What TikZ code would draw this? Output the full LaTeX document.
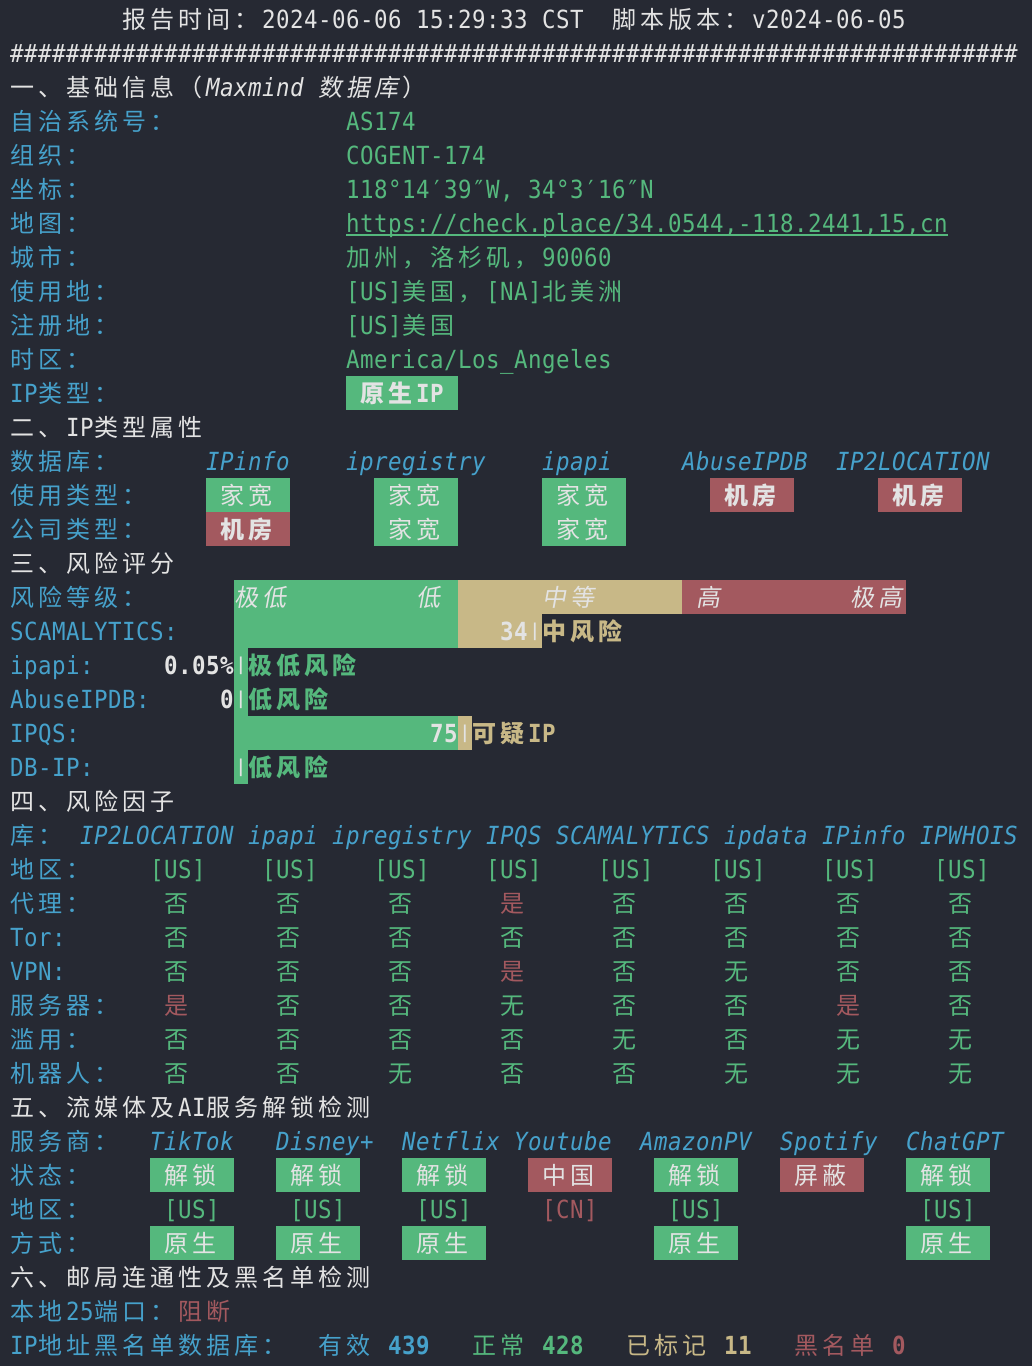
\documentclass[tikz,border=0pt]{standalone}
\usepackage{fontspec}
\newfontfamily\mono{DejaVu Sans Mono}[Scale=1.04,FakeStretch=0.9]
\newfontfamily\cjk{Noto Sans CJK SC}[ItalicFont=Noto Sans CJK SC,ItalicFeatures={FakeSlant=0.18}]

\definecolor{termbg}{HTML}{262933}
\definecolor{termfg}{HTML}{E3E3E3}
\definecolor{termcyan}{HTML}{46A1CB}
\definecolor{termgreen}{HTML}{55B87D}
\definecolor{termred}{HTML}{A3595F}
\definecolor{termtan}{HTML}{C8B887}

% one terminal cell per character (wide cells for CJK)
\def\term#1{\termloop#1\relax}
\def\termloop#1{\ifx\relax#1\else\termchar{#1}\expandafter\termloop\fi}
\def\termchar#1{\ifnum`#1>11903 \makebox[28pt][l]{\cjk#1}\else\makebox[14pt][l]{\mono#1}\fi}

\tikzset{
  tline/.style={anchor=base west,inner sep=0pt,text=termfg,font=\fontsize{24}{30}\selectfont},
  labc/.style={text=termcyan},
  valc/.style={text=termgreen},
  badc/.style={text=termred},
  tanc/.style={text=termtan},
  itc/.style={font=\fontsize{24}{30}\selectfont\itshape},
  bfc/.style={font=\fontsize{24}{30}\selectfont\bfseries},
}
% text at column, row
\newcommand\tput[4][]{\node[tline,#1] at (#2,#3+.765) {\expandafter\term\expandafter{#4}};}
\newcommand\stick[2]{\node[anchor=base,inner sep=0pt,text=termfg,font=\fontsize{17}{17}\selectfont\bfseries] at (#1+.5,#2+.765) {\raisebox{3.6pt}{\mono|}};}
\newcommand\fno[2]{\tput[valc]{#1}{#2}{否}}
\newcommand\fyes[2]{\tput[badc]{#1}{#2}{是}}
\newcommand\fnone[2]{\tput[valc]{#1}{#2}{无}}

\begin{document}
\begin{tikzpicture}[x=14pt,y=-34pt]
\useasboundingbox (-10/14,-2/34) rectangle (73,1364/34);
\fill[termbg] (-10/14,-2/34) rectangle (73,1364/34);

% header
\tput{8}{0}{报告时间：2024-06-06}
\tput{29}{0}{15:29:33}
\tput{38}{0}{CST}
\tput{43}{0}{脚本版本：v2024-06-05}
\foreach \i in {0,...,71}{\node[tline] at (\i,1.765) {\mono\#};}

% section 1
\tput{0}{2}{一、基础信息（}
\tput[itc]{14}{2}{Maxmind}
\tput[itc]{22}{2}{数据库}
\tput{28}{2}{）}
\foreach \lbl [count=\r from 3] in {自治系统号：,组织：,坐标：,地图：,城市：,使用地：,注册地：,时区：,IP类型：}{\tput[labc]{0}{\r}{\lbl}}
\tput[valc]{24}{3}{AS174}
\tput[valc]{24}{4}{COGENT-174}
\tput[valc]{24}{5}{118°14′39″W,}
\tput[valc]{37}{5}{34°3′16″N}
\tput[valc]{24}{6}{https://check.place/34.0544,-118.2441,15,cn}
\draw[termgreen,line width=1.6pt] (24,6.86) -- (67,6.86);
\tput[valc]{24}{7}{加州，洛杉矶，90060}
\tput[valc]{24}{8}{[US]美国，[NA]北美洲}
\tput[valc]{24}{9}{[US]美国}
\tput[valc]{24}{10}{America/Los\_Angeles}
\fill[termgreen] (24,11) rectangle (32,12);
\tput[bfc]{25}{11}{原生IP}

% section 2
\tput{0}{12}{二、IP类型属性}
\foreach \lbl [count=\r from 13] in {数据库：,使用类型：,公司类型：}{\tput[labc]{0}{\r}{\lbl}}
\foreach \c/\n in {14/IPinfo,24/ipregistry,38/ipapi,48/AbuseIPDB,59/IP2LOCATION}{\tput[labc,itc]{\c}{13}{\n}}
\foreach \c/\r in {14/14,26/14,38/14,26/15,38/15}{
  \fill[termgreen] (\c,\r) rectangle ++(6,1);
  \tput{\c+1}{\r}{家宽}
}
\foreach \c/\r in {50/14,62/14,14/15}{
  \fill[termred] (\c,\r) rectangle ++(6,1);
  \tput[bfc]{\c+1}{\r}{机房}
}

% section 3
\tput{0}{16}{三、风险评分}
\foreach \lbl [count=\r from 17] in {风险等级：,SCAMALYTICS:,ipapi:,AbuseIPDB:,IPQS:,DB-IP:}{\tput[labc]{0}{\r}{\lbl}}
\fill[termgreen] (16,17) rectangle (32,19);
\fill[termtan] (32,17) rectangle (48,18);
\fill[termred] (48,17) rectangle (64,18);
\fill[termtan] (32,18) rectangle (38,19);
\fill[termgreen] (16,19) rectangle (17,23);
\fill[termgreen] (17,21) rectangle (32,22);
\fill[termtan] (32,21) rectangle (33,22);
\foreach \c/\w in {16/极低,29/低,38/中等,49/高,60/极高}{\tput[itc]{\c}{17}{\w}}
\tput[bfc]{35}{18}{34}
\stick{37}{18}
\tput[bfc,tanc]{38}{18}{中风险}
\tput[bfc]{11}{19}{0.05\%}
\stick{16}{19}
\tput[bfc,valc]{17}{19}{极低风险}
\tput[bfc]{15}{20}{0}
\stick{16}{20}
\tput[bfc,valc]{17}{20}{低风险}
\tput[bfc]{30}{21}{75}
\stick{32}{21}
\tput[bfc,tanc]{33}{21}{可疑IP}
\stick{16}{22}
\tput[bfc,valc]{17}{22}{低风险}

% section 4
\tput{0}{23}{四、风险因子}
\tput[labc]{0}{24}{库：}
\foreach \c/\n in {5/IP2LOCATION,17/ipapi,23/ipregistry,34/IPQS,39/SCAMALYTICS,51/ipdata,58/IPinfo,65/IPWHOIS}{\tput[labc,itc]{\c}{24}{\n}}
\foreach \lbl [count=\r from 25] in {地区：,代理：,Tor:,VPN:,服务器：,滥用：,机器人：}{\tput[labc]{0}{\r}{\lbl}}
\foreach \k in {0,...,7}{\tput[valc]{10+8*\k}{25}{[US]}}
\foreach \r/\vals in {26/{no,no,no,yes,no,no,no,no},
                      27/{no,no,no,no,no,no,no,no},
                      28/{no,no,no,yes,no,none,no,no},
                      29/{yes,no,no,none,no,no,yes,no},
                      30/{no,no,no,no,none,no,none,none},
                      31/{no,no,none,no,no,none,none,none}}{
  \foreach \v [count=\k from 0] in \vals {\csname f\v\endcsname{11+8*\k}{\r}}
}

% section 5
\tput{0}{32}{五、流媒体及AI服务解锁检测}
\foreach \lbl [count=\r from 33] in {服务商：,状态：,地区：,方式：}{\tput[labc]{0}{\r}{\lbl}}
\foreach \c/\n in {10/TikTok,19/Disney+,28/Netflix,36/Youtube,45/AmazonPV,55/Spotify,64/ChatGPT}{\tput[labc,itc]{\c}{33}{\n}}
\foreach \c in {10,19,28,46,64}{
  \fill[termgreen] (\c,34) rectangle ++(6,1);
  \tput{\c+1}{34}{解锁}
  \tput[valc]{\c+1}{35}{[US]}
  \fill[termgreen] (\c,36) rectangle ++(6,1);
  \tput{\c+1}{36}{原生}
}
\fill[termred] (37,34) rectangle ++(6,1);
\tput{38}{34}{中国}
\tput[badc]{38}{35}{[CN]}
\fill[termred] (55,34) rectangle ++(6,1);
\tput{56}{34}{屏蔽}

% section 6
\tput{0}{37}{六、邮局连通性及黑名单检测}
\tput[labc]{0}{38}{本地25端口：}
\tput[badc]{12}{38}{阻断}
\tput[labc]{0}{39}{IP地址黑名单数据库：}
\tput[labc]{22}{39}{有效}
\tput[labc,bfc]{27}{39}{439}
\tput[valc]{33}{39}{正常}
\tput[valc,bfc]{38}{39}{428}
\tput[tanc]{44}{39}{已标记}
\tput[tanc,bfc]{51}{39}{11}
\tput[badc]{56}{39}{黑名单}
\tput[badc,bfc]{63}{39}{0}

\end{tikzpicture}
\end{document}
